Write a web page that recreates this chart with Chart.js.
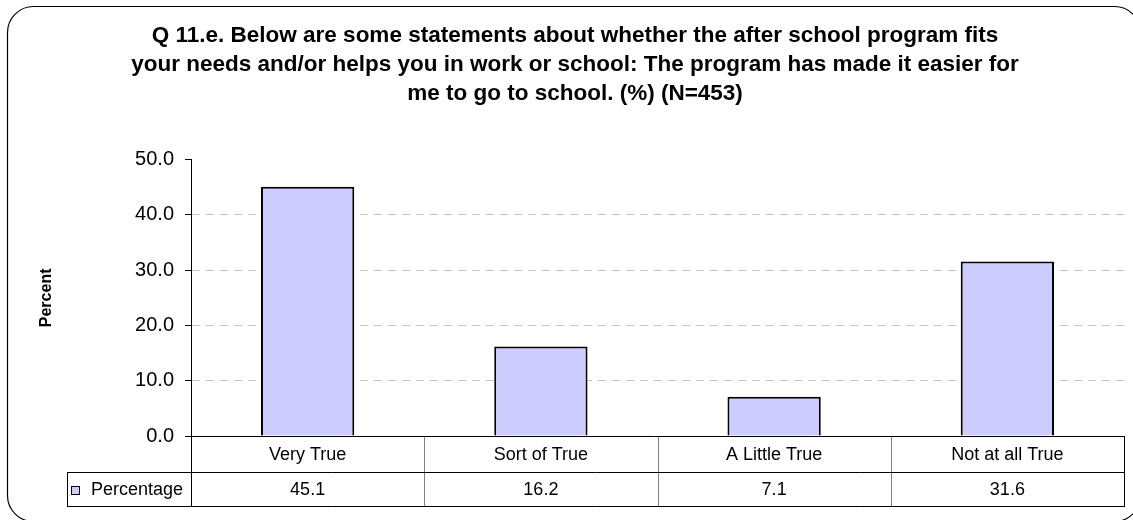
<!DOCTYPE html>
<html>
<head>
<meta charset="utf-8">
<script src="https://cdn.jsdelivr.net/npm/chart.js@4"></script>
<style>
  html, body { margin: 0; padding: 0; background: #fff; }
  #wrap { width: 1133px; height: 520px; position: relative; }
</style>
</head>
<body>
<div id="wrap"><canvas id="c" width="1133" height="520"></canvas></div>
<script>
const categories = ["Very True", "Sort of True", "A Little True", "Not at all True"];
const percentage = [45.1, 16.2, 7.1, 31.6];
const seriesName = "Percentage";
const yTicks = [0, 10, 20, 30, 40, 50];
const titleLines = [
  "Q 11.e. Below are some statements about whether the after school program fits",
  "your needs and/or helps you in work or school: The program has made it easier for",
  "me to go to school. (%) (N=453)"
];
const yTitle = "Percent";

const FONT = "'Liberation Sans', Arial, Helvetica, sans-serif";
const BAR_FILL = "#CCCCFF";

const tablePlugin = {
  id: 'tablePlugin',
  afterDraw(chart) {
    const ctx = chart.ctx;
    const xs = chart.scales.x;
    const area = chart.chartArea;
    const n = categories.length;
    const step = xs.getPixelForValue(1) - xs.getPixelForValue(0);
    const half = step / 2;
    const left = area.left, right = area.right;
    const r1Top = area.bottom, r1Bot = area.bottom + 36, r2Bot = area.bottom + 70;
    const legLeft = 67;
    ctx.save();
    // grey column dividers
    ctx.strokeStyle = '#808080';
    ctx.lineWidth = 1;
    for (let i = 1; i < n; i++) {
      const x = Math.round(xs.getPixelForValue(i) - half) + 0.5;
      ctx.beginPath(); ctx.moveTo(x, r1Top); ctx.lineTo(x, r2Bot); ctx.stroke();
    }
    ctx.strokeStyle = '#000';
    // axis line at zero
    ctx.beginPath(); ctx.moveTo(left - 6, Math.round(r1Top) + 0.5); ctx.lineTo(right, Math.round(r1Top) + 0.5); ctx.stroke();
    // row lines
    ctx.beginPath(); ctx.moveTo(legLeft, r1Bot + 0.5); ctx.lineTo(right, r1Bot + 0.5); ctx.stroke();
    ctx.beginPath(); ctx.moveTo(legLeft, r2Bot + 0.5); ctx.lineTo(right, r2Bot + 0.5); ctx.stroke();
    // verticals
    const lx = Math.round(left) + 0.5;
    ctx.beginPath(); ctx.moveTo(lx, area.top); ctx.lineTo(lx, r2Bot); ctx.stroke();
    const rx = Math.round(right) + 0.5;
    ctx.beginPath(); ctx.moveTo(rx, r1Top); ctx.lineTo(rx, r2Bot + 1); ctx.stroke();
    ctx.beginPath(); ctx.moveTo(legLeft + 0.5, r1Bot); ctx.lineTo(legLeft + 0.5, r2Bot + 1); ctx.stroke();
    // texts
    ctx.fillStyle = '#000';
    ctx.font = "18px " + FONT;
    ctx.textAlign = 'center';
    ctx.textBaseline = 'middle';
    for (let i = 0; i < n; i++) {
      const cx = xs.getPixelForValue(i);
      ctx.fillText(categories[i], cx, (r1Top + r1Bot) / 2 + 1);
      ctx.fillText(percentage[i].toFixed(1), cx, (r1Bot + r2Bot) / 2 + 1);
    }
    // legend key
    ctx.fillStyle = BAR_FILL;
    ctx.fillRect(71.5, 486.5, 8, 8);
    ctx.strokeStyle = '#000';
    ctx.strokeRect(71.5, 486.5, 8, 8);
    ctx.fillStyle = '#000';
    ctx.textAlign = 'left';
    ctx.fillText(seriesName, 91, (r1Bot + r2Bot) / 2 + 1);
    // outer rounded border
    ctx.beginPath();
    ctx.roundRect(7.5, 6.5, 1133, 515, 26);
    ctx.strokeStyle = '#000';
    ctx.lineWidth = 1.2;
    ctx.stroke();
    ctx.restore();
  }
};

new Chart(document.getElementById('c'), {
  type: 'bar',
  data: {
    labels: categories,
    datasets: [{
      label: seriesName,
      data: percentage,
      backgroundColor: BAR_FILL,
      borderColor: '#000',
      borderWidth: 2,
      barPercentage: 0.4,
      categoryPercentage: 1.0
    }]
  },
  options: {
    responsive: false,
    animation: false,
    devicePixelRatio: 1,
    layout: { padding: { left: 26, right: 9, top: 0, bottom: 84 } },
    plugins: {
      legend: { display: false },
      tooltip: { enabled: false },
      title: {
        display: true,
        text: titleLines,
        color: '#000',
        font: { family: FONT, size: 22.5, weight: 'bold', lineHeight: 1.27 },
        padding: { top: 22, bottom: 52 }
      }
    },
    scales: {
      x: {
        display: false,
        grid: { display: false }
      },
      y: {
        min: 0,
        max: 50,
        afterFit(scale) { scale.width = 165; },
        afterBuildTicks(scale) { scale.ticks = yTicks.map(v => ({ value: v })); },
        ticks: {
          color: '#000',
          font: { family: FONT, size: 20 },
          padding: 11,
          callback: v => Number(v).toFixed(1)
        },
        grid: {
          color: ctx => (ctx.tick && (ctx.tick.value === 0 || ctx.tick.value === 50)) ? 'rgba(0,0,0,0)' : '#c4c4c4',
          tickColor: '#000',
          tickLength: 6,
          tickWidth: 1,
          lineWidth: 1
        },
        border: { display: true, color: '#000', width: 1, dash: [8, 6] },
        title: {
          display: true,
          text: yTitle,
          color: '#000',
          font: { family: FONT, size: 16, weight: 'bold' },
          padding: { top: 11 }
        }
      }
    }
  },
  plugins: [tablePlugin]
});
</script>
</body>
</html>
